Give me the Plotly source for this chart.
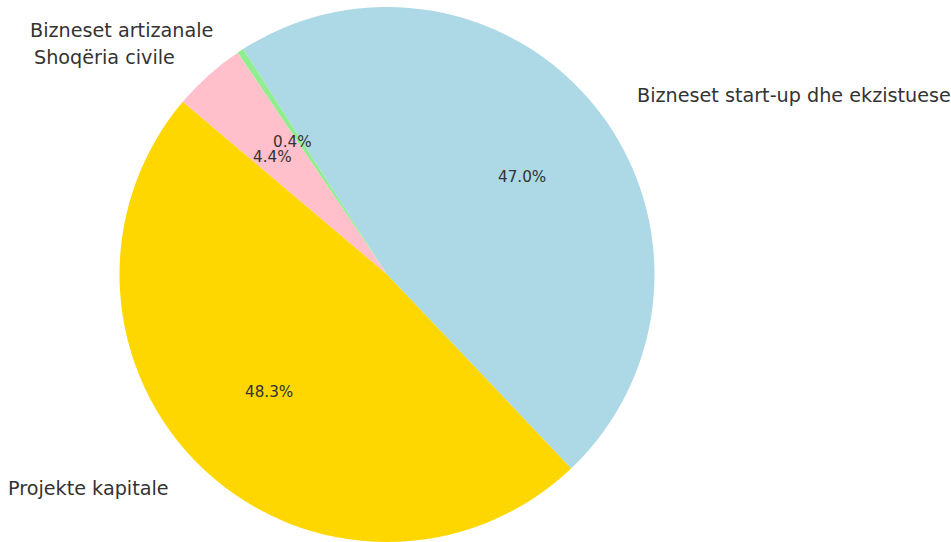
import math
import plotly.graph_objects as go

# ---- data ----
labels = ["Bizneset start-up dhe ekzistuese", "Bizneset artizanale",
          "Shoqëria civile", "Projekte kapitale"]
values = [47.0, 0.4, 4.4, 48.3]
colors = ["#ADD8E6", "#90EE90", "#FFC0CB", "#FFD700"]

# ---- layout geometry (pixels) ----
W, H = 951, 542
CX, CY = 387.0, 275.5          # pie centre
RX, RY = 286.0, 266.0          # radii used for text placement
START = -46.5                  # math angle (deg) where first slice starts
TXT = "#333333"
FONT = "DejaVu Sans"

total = sum(values)
# plotly rotation: clockwise-from-top angle of boundary between slice 0 and 1
rotation = 90 - (START + 360 * values[0] / total)

top_px, bot_px = 7.0, 542.0
half = (bot_px - top_px) / 2
fig = go.Figure(go.Pie(
    labels=labels, values=values, sort=False, direction="counterclockwise",
    rotation=rotation, marker=dict(colors=colors, line=dict(width=0)),
    textinfo="none", hoverinfo="label+percent", showlegend=False,
    domain=dict(x=[(CX - half - 20) / W, (CX + half + 20) / W],
                y=[(H - bot_px) / H, (H - top_px) / H]),
))

annotations = []
ang = START
for lab, v in zip(labels, values):
    span = 360 * v / total
    mid = math.radians(ang + span / 2)
    ang += span
    c, s = math.cos(mid), math.sin(mid)
    # percentage at 0.6 radius
    px, py = CX + 0.6 * RX * c, CY - 0.6 * RY * s
    annotations.append(dict(x=px / W, y=1 - py / H, xref="paper", yref="paper",
                            text=f"{100 * v / total:.1f}%", showarrow=False,
                            xanchor="center", yanchor="middle",
                            font=dict(family=FONT, size=15.2, color=TXT)))
    # label at 1.1 radius
    lx, ly = CX + 1.1 * RX * c, CY - 1.1 * RY * s
    annotations.append(dict(x=lx / W, y=1 - ly / H, xref="paper", yref="paper",
                            text=lab, showarrow=False,
                            xanchor="left" if c > 0 else "right", yanchor="middle",
                            font=dict(family=FONT, size=19.2, color=TXT)))

fig.update_layout(width=W, height=H, margin=dict(l=0, r=0, t=0, b=0),
                  paper_bgcolor="white", plot_bgcolor="white",
                  annotations=annotations)
fig.write_html("out.html", config={"displayModeBar": False},
               post_script="document.body.style.margin='0';document.body.style.overflow='hidden';")
